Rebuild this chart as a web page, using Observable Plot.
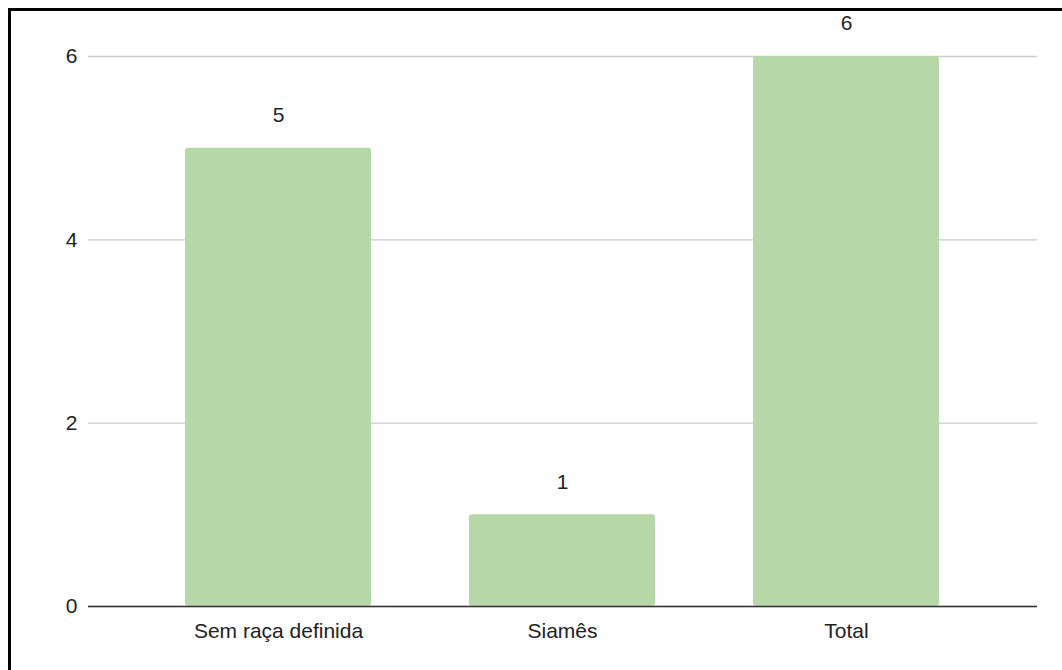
<!DOCTYPE html>
<html>
<head>
<meta charset="utf-8">
<script src="https://cdn.jsdelivr.net/npm/d3@7"></script>
<script src="https://cdn.jsdelivr.net/npm/@observablehq/plot@0.6"></script>
<style>
  html, body { margin: 0; padding: 0; background: #fff; overflow: hidden; }
  #wrap { position: relative; width: 1062px; height: 670px; }
  #frame { position: absolute; left: 8px; top: 8px; width: 1100px; height: 700px;
           border-left: 3px solid #000; border-top: 3px solid #000; pointer-events: none; }
  #chart { position: absolute; left: 0; top: 0; }
</style>
</head>
<body>
<div id="wrap">
  <div id="chart"></div>
  <div id="frame"></div>
</div>
<script>
const categories = ["Sem raça definida", "Siamês", "Total"];
const values = [5, 1, 6];
const yTicks = [0, 2, 4, 6];

const data = categories.map((c, i) => ({category: c, value: values[i]}));

const chart = Plot.plot({
  width: 1062,
  height: 670,
  marginLeft: 88,
  marginRight: 25,
  marginTop: 56,
  marginBottom: 64,
  style: {fontFamily: "'Liberation Sans', Arial, sans-serif", fontSize: "21px", color: "#222", background: "transparent"},
  x: {domain: categories, paddingInner: 0.344, paddingOuter: 0.34, label: null},
  y: {domain: [0, 6], ticks: yTicks, label: null},
  marks: [
    Plot.gridY(yTicks, {stroke: "#cccccc", strokeOpacity: 1, strokeWidth: 1.3}),
    Plot.axisY(yTicks, {tickSize: 0, tickPadding: 11, fontSize: 21, label: null, tickFormat: d3.format("d")}),
    Plot.axisX({tickSize: 0, tickPadding: 17, fontSize: 21, label: null}),
    Plot.barY(data, {x: "category", y: "value", fill: "#b6d7a8", rx: 3}),
    Plot.ruleY([0], {stroke: "#333333", strokeWidth: 1.6}),
    Plot.text(data, {x: "category", y: "value", text: d => String(d.value), dy: -33, fontSize: 21, fill: "#222"})
  ]
});
document.getElementById("chart").appendChild(chart);
</script>
</body>
</html>
